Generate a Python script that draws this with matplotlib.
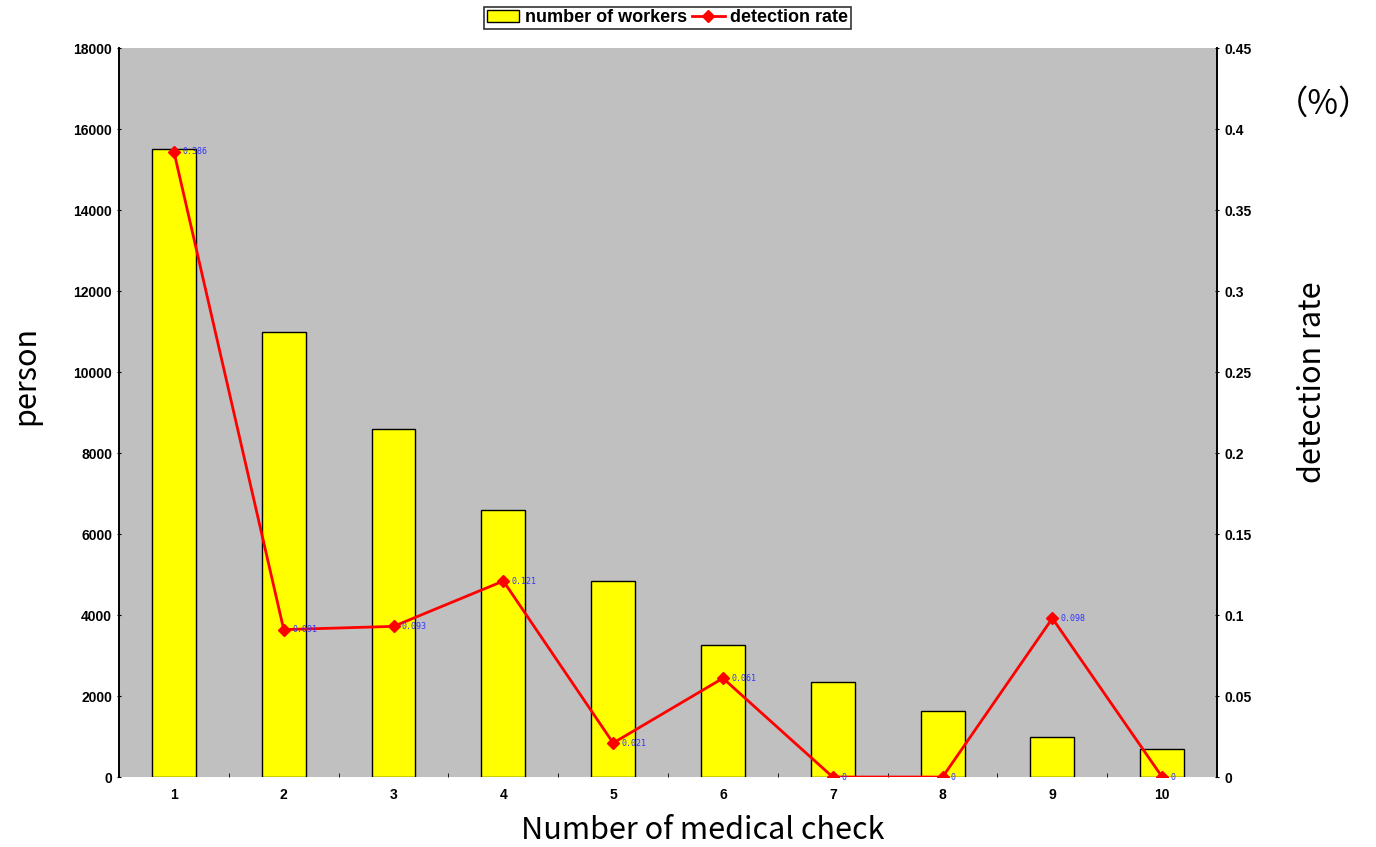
import numpy as np
import matplotlib.pyplot as plt

# data
checks = [1, 2, 3, 4, 5, 6, 7, 8, 9, 10]
workers = [15500, 11000, 8600, 6600, 4830, 3250, 2350, 1620, 1000, 680]
rate = [0.386, 0.091, 0.093, 0.121, 0.021, 0.061, 0, 0, 0.098, 0]
rate_labels = ["0.386", "0.091", "0.093", "0.121", "0.021", "0.061", "0", "0", "0.098", "0"]

plt.rcParams['font.family'] = ['Liberation Sans', 'DejaVu Sans']

fig = plt.figure(figsize=(13.76, 8.47), dpi=100)
ax = fig.add_axes([0.0865, 0.0826, 0.798, 0.8607])
ax.set_facecolor('#c0c0c0')

bars = ax.bar(checks, workers, width=0.4, color='#ffff00', edgecolor='black',
              linewidth=1.0, label='number of workers', zorder=2)
ax.set_xlim(0.5, 10.5)
ax.set_ylim(0, 18000)
ax.set_yticks(np.arange(0, 18001, 2000))
ax.set_xticks(checks)
ax.set_xticks(np.arange(1.5, 10.5, 1), minor=True)
ax.tick_params(axis='x', which='major', length=0, pad=8, labelsize=10)
ax.tick_params(axis='x', which='minor', direction='in', length=3)
ax.tick_params(axis='y', labelsize=10, length=3, direction='inout')
for lab in ax.get_xticklabels() + ax.get_yticklabels():
    lab.set_fontweight('bold')

ax2 = ax.twinx()
line, = ax2.plot(checks, rate, color='#ff0000', marker='D', markersize=6,
                 linewidth=2, label='detection rate', zorder=3)
ax2.set_ylim(0, 0.45)
ax2.set_yticks([0, 0.05, 0.1, 0.15, 0.2, 0.25, 0.3, 0.35, 0.4, 0.45])
ax2.set_yticklabels(['0', '0.05', '0.1', '0.15', '0.2', '0.25', '0.3', '0.35', '0.4', '0.45'])
ax2.tick_params(axis='y', labelsize=10, length=3, direction='inout')
for lab in ax2.get_yticklabels():
    lab.set_fontweight('bold')

for x, r, t in zip(checks, rate, rate_labels):
    ax2.annotate(t, (x, r), xytext=(6, 0), textcoords='offset points',
                 fontsize=6, color='#3333ff', va='center', family='DejaVu Sans Mono')

for a in (ax, ax2):
    a.spines['top'].set_visible(False)
    a.spines['bottom'].set_visible(False)
    a.spines['left'].set_linewidth(1.2)
    a.spines['right'].set_linewidth(1.2)

# axis titles placed in figure coords
lab_font = ['Noto Sans CJK JP', 'DejaVu Sans']
fig.text(0.019, 1 - 375/847, 'person', fontsize=22, family=lab_font,
         rotation=90, ha='center', va='center')
fig.text(0.511, 1 - 830/847, 'Number of medical check', fontsize=22, family=lab_font,
         ha='center', va='center')
fig.text(0.9535, 1 - 382/847, 'detection rate', fontsize=22, family=lab_font,
         rotation=90, ha='center', va='center')
fig.text(0.962, 1 - 104/847, '（%）', fontsize=24, family=lab_font, ha='center', va='center')

leg = fig.legend([bars, line], ['number of workers', 'detection rate'],
                 loc='upper center', bbox_to_anchor=(0.485, 0.992), ncol=2,
                 fontsize=13, frameon=True, fancybox=False, edgecolor='black',
                 handlelength=1.8, handletextpad=0.3, columnspacing=0.3,
                 borderpad=0.15, borderaxespad=0)
leg.get_frame().set_linewidth(1.2)
for t in leg.get_texts():
    t.set_fontweight('bold')

fig.savefig('out.png', dpi=100)
